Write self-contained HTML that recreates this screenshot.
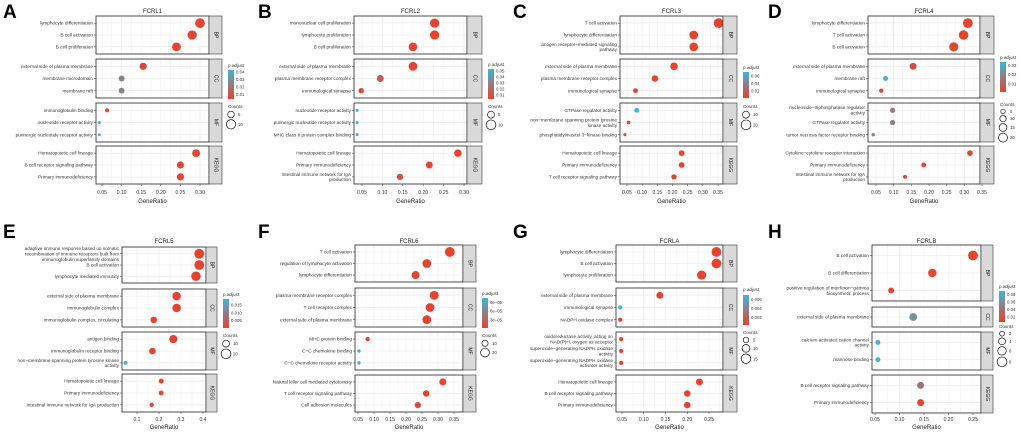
<!DOCTYPE html>
<html><head><meta charset="utf-8"><style>
html,body{margin:0;padding:0;background:#fff;}
svg{display:block;font-family:"Liberation Sans",Arial,sans-serif;}
</style></head><body>
<svg id="fig" width="1020" height="435" viewBox="0 0 1020 435" xmlns="http://www.w3.org/2000/svg">
<defs><linearGradient id="pg" x1="0" y1="0" x2="0" y2="1"><stop offset="0" stop-color="#3db6da"/><stop offset="1" stop-color="#e8412c"/></linearGradient></defs>
</svg>
<script>
// ---- data ----
const A_terms=["lymphocyte differentiation","B cell activation","B cell proliferation","external side of plasma membrane","membrane microdomain","membrane raft","immunoglobulin binding","nucleotide receptor activity","purinergic nucleotide receptor activity","Hematopoietic cell lineage","B cell receptor signaling pathway","Primary immunodeficiency"];
const A_groups=[3,3,3,3];
const A_ratio=[0.30,0.28,0.24,0.155,0.10,0.10,0.063,0.043,0.043,0.29,0.25,0.25];
const A_count=[11,10,9,6,4,4,2,1,1,7,6,6];
const A_padj=[0.005,0.005,0.006,0.006,0.025,0.025,0.007,0.042,0.042,0.005,0.005,0.005];
const A_ticks=[0.05,0.10,0.15,0.20,0.25,0.30];
const A_tickLabels=["0.05","0.10","0.15","0.20","0.25","0.30"];
const A_pTicks=[0.04,0.03,0.02,0.01];const A_pLabels=["0.04","0.03","0.02","0.01"];
const A_cnt=[5,10];

const B_terms=["mononuclear cell proliferation","lymphocyte proliferation","B cell proliferation","external side of plasma membrane","plasma membrane receptor complex","immunological synapse","nucleotide receptor activity","purinergic nucleotide receptor activity","MHC class II protein complex binding","Hematopoietic cell lineage","Primary immunodeficiency","Intestinal immune network for IgA|production"];
const B_groups=[3,3,3,3];
const B_ratio=[0.228,0.228,0.175,0.175,0.095,0.048,0.038,0.038,0.038,0.285,0.215,0.143];
const B_count=[9,9,8,8,5,3,1,1,1,6,5,4];
const B_padj=[0.004,0.004,0.005,0.005,0.016,0.006,0.052,0.052,0.052,0.004,0.005,0.006];
const B_ticks=[0.05,0.10,0.15,0.20,0.25,0.30];
const B_tickLabels=["0.05","0.10","0.15","0.20","0.25","0.30"];
const B_pTicks=[0.05,0.04,0.03,0.02,0.01];const B_pLabels=["0.05","0.04","0.03","0.02","0.01"];
const B_cnt=[5,10];

const C_terms=["T cell activation","lymphocyte differentiation","antigen receptor\u2212mediated signaling|pathway","external side of plasma membrane","plasma membrane receptor complex","immunological synapse","GTPase regulator activity","non\u2212membrane spanning protein tyrosine|kinase activity","phosphatidylinositol 3\u2212kinase binding","Hematopoietic cell lineage","Primary immunodeficiency","T cell receptor signaling pathway"];
const C_groups=[3,3,3,3];
const C_ratio=[0.352,0.27,0.27,0.205,0.142,0.078,0.082,0.055,0.043,0.23,0.23,0.205];
const C_count=[20,16,16,12,9,5,5,3,2,7,7,6];
const C_padj=[0.002,0.002,0.002,0.003,0.004,0.006,0.068,0.006,0.006,0.003,0.003,0.003];
const C_ticks=[0.05,0.10,0.15,0.20,0.25,0.30,0.35];
const C_tickLabels=["0.05","0.10","0.15","0.20","0.25","0.30","0.35"];
const C_pTicks=[0.06,0.04,0.02];const C_pLabels=["0.06","0.04","0.02"];
const C_cnt=[10,20];

const D_terms=["lymphocyte differentiation","T cell activation","B cell activation","external side of plasma membrane","membrane raft","immunological synapse","nucleoside\u2212triphosphatase regulator|activity","GTPase regulator activity","tumor necrosis factor receptor binding","Cytokine\u2212cytokine receptor interaction","Primary immunodeficiency","Intestinal immune network for IgA|production"];
const D_groups=[3,3,3,3];
const D_ratio=[0.31,0.298,0.27,0.155,0.077,0.065,0.097,0.097,0.042,0.316,0.185,0.132];
const D_count=[24,23,21,12,6,5,7,7,3,8,6,4];
const D_padj=[0.002,0.002,0.003,0.003,0.033,0.004,0.018,0.018,0.016,0.003,0.003,0.004];
const D_ticks=[0.05,0.10,0.15,0.20,0.25,0.30,0.35];
const D_tickLabels=["0.05","0.10","0.15","0.20","0.25","0.30","0.35"];
const D_pTicks=[0.03,0.02,0.01];const D_pLabels=["0.03","0.02","0.01"];
const D_cnt=[5,10,15,20];

const E_terms=["adaptive immune response based on somatic|recombination of immune receptors built from|immunoglobulin superfamily domains","B cell activation","lymphocyte mediated immunity","external side of plasma membrane","immunoglobulin complex","immunoglobulin complex, circulating","antigen binding","immunoglobulin receptor binding","non\u2212membrane spanning protein tyrosine kinase|activity","Hematopoietic cell lineage","Primary immunodeficiency","Intestinal immune network for IgA production"];
const E_groups=[3,3,3,3];
const E_ratio=[0.383,0.383,0.368,0.28,0.28,0.176,0.265,0.17,0.048,0.21,0.21,0.167];
const E_count=[20,20,19,15,15,9,14,9,3,5,5,4];
const E_padj=[0.0005,0.0005,0.0006,0.0006,0.0006,0.001,0.0008,0.001,0.018,0.001,0.001,0.001];
const E_ticks=[0.1,0.2,0.3,0.4];
const E_tickLabels=["0.1","0.2","0.3","0.4"];
const E_pTicks=[0.015,0.010,0.005];const E_pLabels=["0.015","0.010","0.005"];
const E_cnt=[10,20];

const F_terms=["T cell activation","regulation of lymphocyte activation","lymphocyte differentiation","plasma membrane receptor complex","T cell receptor complex","external side of plasma membrane","MHC protein binding","C\u2212C chemokine binding","C\u2212C chemokine receptor activity","Natural killer cell mediated cytotoxicity","T cell receptor signaling pathway","Cell adhesion molecules"];
const F_groups=[3,3,3,3];
const F_ratio=[0.337,0.265,0.23,0.288,0.275,0.265,0.08,0.053,0.053,0.315,0.263,0.237];
const F_count=[25,20,17,21,20,20,5,3,3,13,11,10];
const F_padj=[0.000005,0.000005,0.000006,0.000005,0.000005,0.000005,0.000008,0.0001,0.0001,0.000005,0.000006,0.000006];
const F_ticks=[0.05,0.10,0.15,0.20,0.25,0.30,0.35];
const F_tickLabels=["0.05","0.10","0.15","0.20","0.25","0.30","0.35"];
const F_pTicks=[0.00009,0.00006,0.00003];const F_pLabels=["9e\u221205","6e\u221205","3e\u221205"];
const F_cnt=[10,20];

const G_terms=["lymphocyte differentiation","B cell activation","lymphocyte proliferation","external side of plasma membrane","immunological synapse","NADPH oxidase complex","oxidoreductase activity, acting on|NAD(P)H, oxygen as acceptor","superoxide\u2212generating NADPH oxidase|activity","superoxide\u2212generating NADPH oxidase|activator activity","Hematopoietic cell lineage","B cell receptor signaling pathway","Primary immunodeficiency"];
const G_groups=[3,3,3,3];
const G_ratio=[0.267,0.267,0.233,0.137,0.046,0.046,0.048,0.048,0.048,0.228,0.2,0.2];
const G_count=[16,16,14,8,3,3,3,3,3,8,7,7];
const G_padj=[0.0004,0.0004,0.0005,0.0005,0.0068,0.0005,0.0005,0.0005,0.0005,0.0004,0.0005,0.0005];
const G_ticks=[0.05,0.10,0.15,0.20,0.25];
const G_tickLabels=["0.05","0.10","0.15","0.20","0.25"];
const G_pTicks=[0.006,0.004,0.002];const G_pLabels=["0.006","0.004","0.002"];
const G_cnt=[5,10,15];

const H_terms=["B cell activation","B cell differentiation","positive regulation of interferon\u2212gamma|biosynthetic process","external side of plasma membrane","calcium activated cation channel|activity","mannose binding","B cell receptor signaling pathway","Primary immunodeficiency"];
const H_groups=[3,1,2,2];
const H_ratio=[0.25,0.167,0.083,0.128,0.056,0.056,0.143,0.143];
const H_count=[8,6,3,5,2,2,4,4];
const H_padj=[0.008,0.009,0.01,0.062,0.088,0.088,0.042,0.01];
const H_ticks=[0.05,0.10,0.15,0.20,0.25];
const H_tickLabels=["0.05","0.10","0.15","0.20","0.25"];
const H_pTicks=[0.08,0.06,0.04,0.02];const H_pLabels=["0.08","0.06","0.04","0.02"];
const H_cnt=[2,4,6,8];

// ---- layout (pixels) ----
const topF=[[16,54],[59,98],[103,142],[146,184]];
const botF=[[245,282],[288,327],[332,370],[375,412]];
const panels=[
 {id:"A",gene:"FCRL1",lx:3,ly:18,ty:13,L:96,R:209,S:222,F:topF,tk:[102,200],tyT:194,gy:203,pT:67,b0:70,b1:99,pLo:0.004,pHi:0.043,cY:108,
  terms:A_terms,groups:A_groups,ratio:A_ratio,count:A_count,padj:A_padj,ticks:A_ticks,tl:A_tickLabels,pt:A_pTicks,pl:A_pLabels,cnt:A_cnt},
 {id:"B",gene:"FCRL2",lx:258,ly:18,ty:13,L:354,R:467,S:482,F:topF,tk:[362,464],tyT:194,gy:203,pT:66,b0:69,b1:99,pLo:0.003,pHi:0.053,cY:108,
  terms:B_terms,groups:B_groups,ratio:B_ratio,count:B_count,padj:B_padj,ticks:B_ticks,tl:B_tickLabels,pt:B_pTicks,pl:B_pLabels,cnt:B_cnt},
 {id:"C",gene:"FCRL3",lx:513,ly:18,ty:13,L:620,R:723,S:737,F:topF,tk:[627,718],tyT:194,gy:203,pT:69,b0:72,b1:98,pLo:0.001,pHi:0.07,cY:108,
  terms:C_terms,groups:C_groups,ratio:C_ratio,count:C_count,padj:C_padj,ticks:C_ticks,tl:C_tickLabels,pt:C_pTicks,pl:C_pLabels,cnt:C_cnt},
 {id:"D",gene:"FCRL4",lx:768,ly:18,ty:13,L:868,R:980,S:994,F:topF,tk:[876,982],tyT:194,gy:203,pT:59,b0:62,b1:92,pLo:0.001,pHi:0.034,cY:106,
  terms:D_terms,groups:D_groups,ratio:D_ratio,count:D_count,padj:D_padj,ticks:D_ticks,tl:D_tickLabels,pt:D_pTicks,pl:D_pLabels,cnt:D_cnt},
 {id:"E",gene:"FCRL5",lx:3,ly:238,ty:243,L:122,R:206,S:217,F:[[247,283],[289,327],[332,370],[374,412]],tk:[137,203],tyT:421,gy:429,pT:296,b0:299,b1:328,pLo:0.0003,pHi:0.019,cY:337,
  terms:E_terms,groups:E_groups,ratio:E_ratio,count:E_count,padj:E_padj,ticks:E_ticks,tl:E_tickLabels,pt:E_pTicks,pl:E_pLabels,cnt:E_cnt},
 {id:"F",gene:"FCRL6",lx:258,ly:238,ty:243,L:355,R:463,S:476,F:botF,tk:[358,454],tyT:421,gy:429,pT:295,b0:298,b1:328,pLo:0.000003,pHi:0.000105,cY:337,
  terms:F_terms,groups:F_groups,ratio:F_ratio,count:F_count,padj:F_padj,ticks:F_ticks,tl:F_tickLabels,pt:F_pTicks,pl:F_pLabels,cnt:F_cnt},
 {id:"G",gene:"FCRLA",lx:513,ly:238,ty:243,L:616,R:723,S:737,F:botF,tk:[622,709],tyT:421,gy:429,pT:291,b0:295,b1:325,pLo:0.0003,pHi:0.007,cY:334,
  terms:G_terms,groups:G_groups,ratio:G_ratio,count:G_count,padj:G_padj,ticks:G_ticks,tl:G_tickLabels,pt:G_pTicks,pl:G_pLabels,cnt:G_cnt},
 {id:"H",gene:"FCRLB",lx:768,ly:238,ty:243,L:872,R:981,S:993,F:[[245,301],[307,327],[332,370],[375,413]],tk:[875,973],tyT:421,gy:429,pT:288,b0:291,b1:322,pLo:0.007,pHi:0.09,cY:328,
  terms:H_terms,groups:H_groups,ratio:H_ratio,count:H_count,padj:H_padj,ticks:H_ticks,tl:H_tickLabels,pt:H_pTicks,pl:H_pLabels,cnt:H_cnt}
];
const strips=["BP","CC","MF","KEGG"];
const NS="http://www.w3.org/2000/svg";
const svg=document.getElementById("fig");
function mk(tag,attrs,parent,text){const e=document.createElementNS(NS,tag);for(const k in attrs)e.setAttribute(k,attrs[k]);if(text!==undefined)e.textContent=text;(parent||svg).appendChild(e);return e;}
function col(p,lo,hi){let t=(p-lo)/(hi-lo);t=Math.max(0,Math.min(1,t));const a=[232,65,44],b=[61,182,218];return "rgb("+a.map((v,i)=>Math.round(v+(b[i]-v)*t)).join(",")+")";}

panels.forEach(P=>{
  const g=mk("g",{});
  
  
  const xs=v=>P.tk[0]+(v-P.ticks[0])*(P.tk[1]-P.tk[0])/(P.ticks[P.ticks.length-1]-P.ticks[0]);
  const cmax=Math.max(...P.count,...P.cnt);
  const rs=c=>Math.max(1.4,4.9*Math.sqrt(c/cmax));
  const lt=mk("text",{x:P.lx,y:P.ly,"font-size":19,"font-weight":"bold",fill:"#000"},g,P.id);
  
  const tt=mk("text",{x:(P.L+P.R)/2,y:P.ty,"font-size":6,"text-anchor":"middle",fill:"#222"},g,P.gene);
  
  let idx=0;
  P.groups.forEach((n,fi)=>{
    const [y0,y1]=P.F[fi];
    const fg=mk("g",{},g);
    
    
    mk("rect",{x:P.L,y:y0,width:P.R-P.L,height:y1-y0,fill:"#fff"},fg);
    const step=P.ticks[1]-P.ticks[0];
    for(let v=P.ticks[0]-step/2;v<=P.ticks[P.ticks.length-1]+step;v+=step/2){const x=xs(v);if(x>P.L&&x<P.R)mk("line",{x1:x,x2:x,y1:y0,y2:y1,stroke:"#ebebeb","stroke-width":Math.abs(((v-P.ticks[0])/step)%1)<1e-6?0.7:0.4},fg);}
    const ys=k=>y0+(k+0.6)*(y1-y0)/(n+0.2);
    for(let k=0;k<n;k++){
      const i=idx+k, y=ys(k);
      mk("line",{x1:P.L,x2:P.R,y1:y,y2:y,stroke:"#ebebeb","stroke-width":0.7},fg);
      mk("line",{x1:P.L-2,x2:P.L,y1:y,y2:y,stroke:"#333","stroke-width":0.5},fg);
      const lines=P.terms[i].split("|");
      const lab=mk("text",{x:P.L-3,y:y+1.6-(lines.length-1)*2.7,"font-size":4.7,"text-anchor":"end",fill:"#333"},fg);
      
      lines.forEach((s,j)=>mk("tspan",{x:P.L-3,dy:j?5.4:0},lab,s));
      const dot=mk("circle",{cx:xs(P.ratio[i]),cy:y,r:rs(P.count[i]),fill:col(P.padj[i],P.pLo,P.pHi)},fg);
      
      
    }
    idx+=n;
    mk("rect",{x:P.L,y:y0,width:P.R-P.L,height:y1-y0,fill:"none",stroke:"#222","stroke-width":0.8},fg);
    mk("rect",{x:P.R,y:y0,width:P.S-P.R,height:y1-y0,fill:"#d9d9d9",stroke:"#333","stroke-width":0.6},fg);
    const cx=(P.R+P.S)/2, cy=(y0+y1)/2;
    const st=mk("text",{x:cx,y:cy,"font-size":5,"text-anchor":"middle","dominant-baseline":"central",fill:"#222",transform:"rotate(90 "+cx+" "+cy+")"},fg,strips[fi]);
    
  });
  const lastY=P.F[P.F.length-1][1];
  P.ticks.forEach((v,k)=>{const x=xs(v);mk("line",{x1:x,x2:x,y1:lastY,y2:lastY+2,stroke:"#333","stroke-width":0.5},g);
    const t=mk("text",{x:x,y:P.tyT,"font-size":5,"text-anchor":"middle",fill:"#333"},g,P.tl[k]);
    });
  const xl=mk("text",{x:(P.L+P.R)/2,y:P.gy,"font-size":6,"text-anchor":"middle",fill:"#222"},g,"GeneRatio");
  
  const lx=P.S+6;
  const lg=mk("g",{},g);
  
  mk("text",{x:lx,y:P.pT,"font-size":4.6,fill:"#333"},lg,"p.adjust");
  mk("rect",{x:lx,y:P.b0,width:6,height:P.b1-P.b0,fill:"url(#pg)"},lg);
  P.pt.forEach((v,k)=>{const y=P.b1-(v-P.pLo)/(P.pHi-P.pLo)*(P.b1-P.b0);
    mk("text",{x:lx+8,y:y+1.5,"font-size":4.3,fill:"#333"},lg,P.pl[k]);});
  mk("text",{x:lx,y:P.cY,"font-size":4.6,fill:"#333"},lg,"Counts");
  let cy=P.cY+2;
  P.cnt.forEach(c=>{const r=rs(c);cy+=r+1.2;
    mk("circle",{cx:lx+3,cy:cy,r:r,fill:"none",stroke:"#111","stroke-width":0.7},lg);
    mk("text",{x:lx+10,y:cy+1.5,"font-size":4.3,fill:"#333"},lg,String(c));cy+=r+0.6;});
});
</script>
</body></html>
